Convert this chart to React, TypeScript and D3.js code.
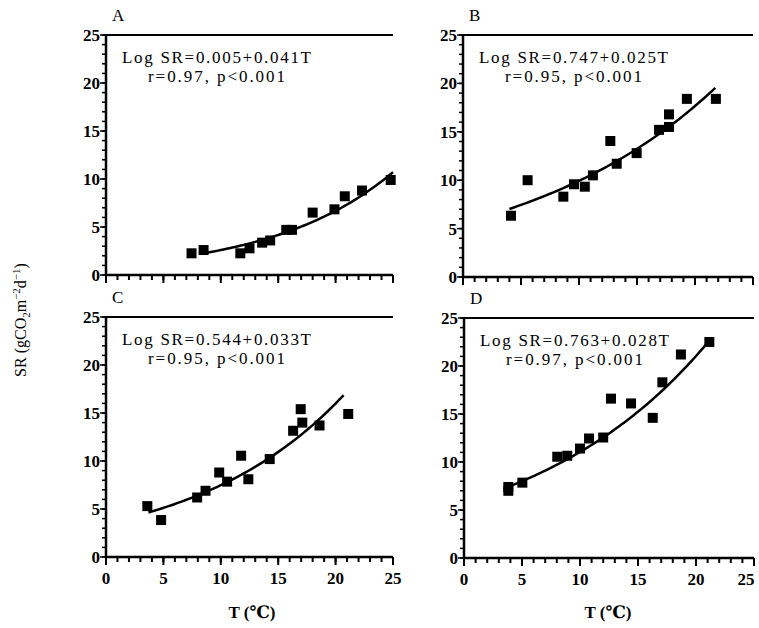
import React from 'react';
import { scaleLinear, line, range } from 'd3';

// measured points for each panel: temperature (°C) and soil respiration
const tempA = [7.45, 8.5, 11.7, 12.5, 13.6, 14.3, 15.7, 16.2, 18.0, 19.9, 20.8, 22.3, 24.8];
const srA = [2.26, 2.6, 2.26, 2.78, 3.37, 3.6, 4.7, 4.7, 6.5, 6.84, 8.2, 8.8, 9.9];

const tempB = [4.14, 5.57, 8.65, 9.57, 10.5, 11.2, 12.7, 13.25, 14.97, 16.9, 17.76, 17.76, 19.3, 21.8];
const srB = [6.33, 10.0, 8.3, 9.58, 9.33, 10.5, 14.05, 11.7, 12.8, 15.2, 15.5, 16.8, 18.4, 18.4];

const tempC = [3.6, 4.8, 7.94, 8.67, 9.86, 10.55, 11.77, 12.4, 14.26, 16.3, 16.96, 17.1, 18.6, 21.1];
const srC = [5.3, 3.85, 6.2, 6.9, 8.8, 7.85, 10.55, 8.1, 10.2, 13.15, 15.4, 14.0, 13.7, 14.9];

const tempD = [3.82, 3.82, 5.03, 8.04, 8.9, 10.0, 10.78, 12.0, 12.67, 14.4, 16.27, 17.1, 18.7, 21.15];
const srD = [7.0, 7.4, 7.85, 10.55, 10.65, 11.4, 12.45, 12.55, 16.6, 16.1, 14.6, 18.3, 21.2, 22.5];

// regression coefficients printed in each panel (Log SR = a + bT) and the T range of the drawn curve
const panelNames = ['A', 'B', 'C', 'D'];
const interceptA = [0.005, 0.747, 0.544, 0.763];
const slopeB = [0.041, 0.025, 0.033, 0.028];
const curveStart = [8.5, 4.0, 3.7, 3.6];
const curveEnd = [25.0, 21.8, 20.9, 21.2];
const equations = [
  'Log SR=0.005+0.041T',
  'Log SR=0.747+0.025T',
  'Log SR=0.544+0.033T',
  'Log SR=0.763+0.028T',
];
const stats = ['r=0.97, p<0.001', 'r=0.95, p<0.001', 'r=0.95, p<0.001', 'r=0.97, p<0.001'];

const xMajor = [0, 5, 10, 15, 20, 25];
const yMajor = [0, 5, 10, 15, 20, 25];
const minorTicks = range(0, 26, 1);

const temps = [tempA, tempB, tempC, tempD];
const srs = [srA, srB, srC, srD];

// pixel frame of each panel
const frames = [
  { left: 106, right: 393, top: 35, bottom: 275, xLabels: false },
  { left: 463, right: 753, top: 35, bottom: 277, xLabels: false },
  { left: 106, right: 393, top: 317, bottom: 557, xLabels: true },
  { left: 464, right: 754, top: 318, bottom: 558, xLabels: true },
];

const serif = '"Liberation Serif", "DejaVu Serif", serif';

const Panel = ({ i }: { i: number }) => {
  const f = frames[i];
  const x = scaleLinear().domain([0, 25]).range([f.left, f.right]);
  const y = scaleLinear().domain([0, 25]).range([f.bottom, f.top]);

  const fitT = range(curveStart[i], curveEnd[i] + 0.001, 0.25);
  const fit = line<number>()
    .x((t) => x(t))
    .y((t) => y(Math.pow(10, interceptA[i] + slopeB[i] * t)));

  const eqX = f.left + 16;
  return (
    <g>
      {/* panel letter */}
      <text x={f.left + 6} y={f.top - 14} fontFamily={serif} fontSize={17}>
        {panelNames[i]}
      </text>

      {/* frame: top, left, bottom */}
      <line x1={f.left} x2={f.right} y1={f.top} y2={f.top} stroke="#000" strokeWidth={2} />
      <line x1={f.left} x2={f.left} y1={f.top - 1} y2={f.bottom + 1} stroke="#000" strokeWidth={2.5} />
      <line x1={f.left - 1} x2={f.right} y1={f.bottom} y2={f.bottom} stroke="#000" strokeWidth={2.5} />

      {/* y ticks */}
      {minorTicks.map((v) => (
        <line key={'ym' + v} x1={f.left - 4} x2={f.left} y1={y(v)} y2={y(v)} stroke="#000" strokeWidth={1.5} />
      ))}
      {yMajor.map((v) => (
        <g key={'y' + v}>
          <line x1={f.left - 6} x2={f.left} y1={y(v)} y2={y(v)} stroke="#000" strokeWidth={1.5} />
          <text
            x={f.left - 6}
            y={y(v) + 6}
            textAnchor="end"
            fontFamily={serif}
            fontWeight="bold"
            fontSize={17}
          >
            {v}
          </text>
        </g>
      ))}

      {/* x ticks */}
      {minorTicks.map((v) => (
        <line key={'xm' + v} x1={x(v)} x2={x(v)} y1={f.bottom} y2={f.bottom + 5} stroke="#000" strokeWidth={2} />
      ))}
      {xMajor.map((v) => (
        <g key={'x' + v}>
          <line x1={x(v)} x2={x(v)} y1={f.bottom} y2={f.bottom + 8} stroke="#000" strokeWidth={2} />
          {f.xLabels && (
            <text
              x={Math.min(x(v), 746)}
              y={f.bottom + 27}
              textAnchor="middle"
              fontFamily={serif}
              fontWeight="bold"
              fontSize={17}
            >
              {v}
            </text>
          )}
        </g>
      ))}

      {/* fitted curve */}
      <path d={fit(fitT) || ''} fill="none" stroke="#000" strokeWidth={2.5} />

      {/* observed points */}
      {temps[i].map((t, k) => (
        <rect key={k} x={x(t) - 5} y={y(srs[i][k]) - 5} width={10} height={10} fill="#000" />
      ))}

      {/* equation */}
      <text
        x={eqX}
        y={f.top + 28}
        fontFamily={serif}
        fontSize={17}
        textLength={189}
        lengthAdjust="spacing"
      >
        {equations[i]}
      </text>
      <text
        x={eqX + 26}
        y={f.top + 47}
        fontFamily={serif}
        fontSize={17}
        textLength={137}
        lengthAdjust="spacing"
      >
        {stats[i]}
      </text>
    </g>
  );
};

const App = () => {
  return (
    <svg width={759} height={628} style={{ position: 'absolute', left: 0, top: 0, background: '#fff' }}>
      <rect width={759} height={628} fill="#fff" />
      {frames.map((_, i) => (
        <Panel key={i} i={i} />
      ))}
      <text x={252} y={618} textAnchor="middle" fontFamily={serif} fontWeight="bold" fontSize={17}>
        T (℃)
      </text>
      <text x={608} y={618} textAnchor="middle" fontFamily={serif} fontWeight="bold" fontSize={17}>
        T (℃)
      </text>
      <text
        transform="translate(26,320) rotate(-90)"
        textAnchor="middle"
        fontFamily={serif}
        fontSize={16}
      >
        SR (gCO
        <tspan fontSize={11} dy={4}>2</tspan>
        <tspan dy={-4}>m</tspan>
        <tspan fontSize={11} dy={-6}>−2</tspan>
        <tspan dy={6}>d</tspan>
        <tspan fontSize={11} dy={-6}>−1</tspan>
        <tspan dy={6}>)</tspan>
      </text>
    </svg>
  );
};

export default App;
